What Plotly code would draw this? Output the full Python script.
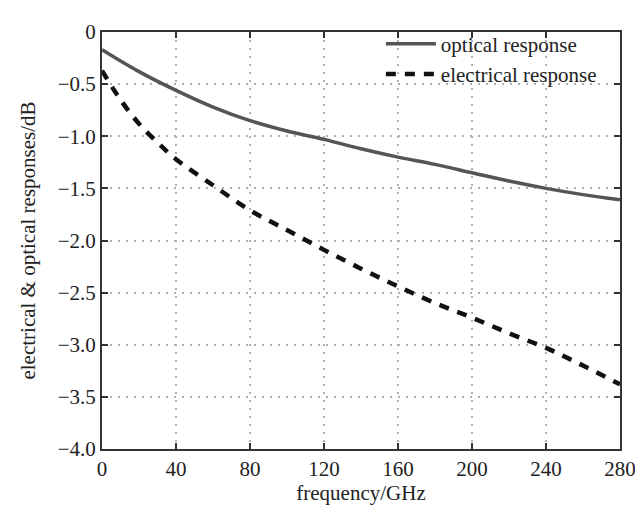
import plotly.graph_objects as go

# optical response (dB) vs frequency (GHz)
freq_opt = [0, 20, 40, 60, 80, 100, 120, 140, 160, 180, 200, 220, 240, 260, 280]
optical = [-0.17, -0.38, -0.56, -0.72, -0.85, -0.95, -1.03, -1.12, -1.20, -1.27,
           -1.35, -1.43, -1.50, -1.56, -1.61]

# electrical response (dB) vs frequency (GHz)
freq_ele = [0, 10, 20, 30, 40, 60, 80, 100, 120, 140, 160, 180, 200, 220, 240, 260, 280]
electrical = [-0.37, -0.65, -0.88, -1.06, -1.22, -1.47, -1.71, -1.90, -2.09, -2.27,
              -2.44, -2.60, -2.74, -2.89, -3.03, -3.20, -3.38]

x_ticks = [0, 40, 80, 120, 160, 200, 240, 280]
y_ticks = [0, -0.5, -1.0, -1.5, -2.0, -2.5, -3.0, -3.5, -4.0]
y_labels = ["0", "\u22120.5", "\u22121.0", "\u22121.5", "\u22122.0", "\u22122.5",
            "\u22123.0", "\u22123.5", "\u22124.0"]

FONT = "Liberation Serif, Times New Roman, serif"

fig = go.Figure()
fig.add_trace(go.Scatter(
    x=freq_opt, y=optical, mode="lines", name="optical response",
    line=dict(color="#555555", width=3.5, shape="spline"),
))
fig.add_trace(go.Scatter(
    x=freq_ele, y=electrical, mode="lines", name="electrical response",
    line=dict(color="#111111", width=4.5, dash="10px,9px", shape="spline"),
))

axis_common = dict(
    showline=True, linecolor="#333333", linewidth=2, mirror="ticks",
    ticks="inside", ticklen=6, tickwidth=2, tickcolor="#333333",
    showgrid=True, gridcolor="#b0b0b0", griddash="2px,6px", gridwidth=1.5,
    zeroline=False, tickfont=dict(family=FONT, size=21, color="#222222"),
)

fig.update_layout(
    width=643, height=506,
    margin=dict(l=94, r=31, t=15, b=65),
    plot_bgcolor="white", paper_bgcolor="white",
    font=dict(family=FONT, color="#222222"),
    xaxis=dict(
        range=[0, 280], tickvals=x_ticks,
        title=dict(text="frequency/GHz", font=dict(family=FONT, size=21), standoff=4),
        **axis_common,
    ),
    yaxis=dict(
        range=[-4.0, 0], tickvals=y_ticks, ticktext=y_labels,
        title=dict(text="electrical & optical responses/dB", font=dict(family=FONT, size=21),
                   standoff=16),
        **axis_common,
    ),
    legend=dict(
        x=0.965, y=1.02, xanchor="right", yanchor="top",
        bgcolor="rgba(0,0,0,0)", font=dict(family=FONT, size=21),
        tracegroupgap=0, itemwidth=50,
    ),
    showlegend=True,
)

fig.write_html("out.html")
